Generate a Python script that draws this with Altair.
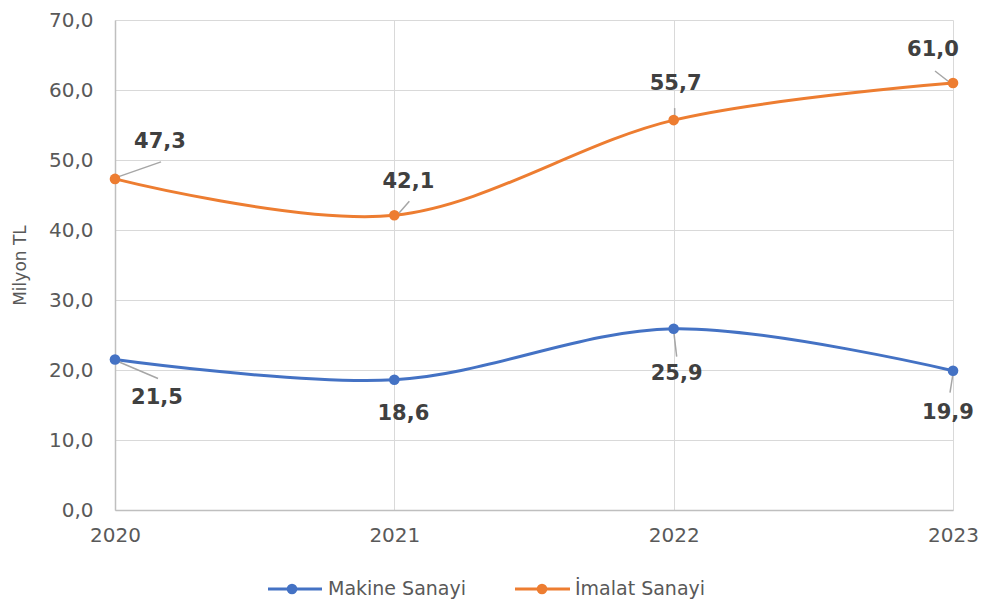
import altair as alt
import pandas as pd

years = [2020, 2021, 2022, 2023]
series_names = ["Makine Sanayi", "İmalat Sanayi"]
makine = [21.5, 18.6, 25.9, 19.9]
imalat = [47.3, 42.1, 55.7, 61.0]
colors = ["#4472C4", "#ED7D31"]
y_ticks = [0, 10, 20, 30, 40, 50, 60, 70]

rows = []
for name, vals in zip(series_names, [makine, imalat]):
    for yr, v in zip(years, vals):
        rows.append({"seri": name, "yil": yr, "deger": v})
df = pd.DataFrame(rows)
legend_df = pd.DataFrame({"seri": series_names})

FONT = "DejaVu Sans"
GRAY = "#595959"

# label placement (pixel offsets from the point): text dx, dy and leader start/end
placement = {
    ("İmalat Sanayi", 2020): dict(t=(45, -37), lead=((3, -2), (46, -17))),
    ("Makine Sanayi", 2020): dict(t=(42, 38), lead=((3, 2), (43, 19))),
    ("İmalat Sanayi", 2021): dict(t=(14, -33), lead=((1, 2), (15, -14))),
    ("Makine Sanayi", 2021): dict(t=(9, 34), lead=None),
    ("İmalat Sanayi", 2022): dict(t=(2, -36), lead=((1, 2), (1, -12))),
    ("Makine Sanayi", 2022): dict(t=(3, 45), lead=((0, 2), (3, 28))),
    ("İmalat Sanayi", 2023): dict(t=(-20, -33), lead=((0, 2), (-18, -12))),
    ("Makine Sanayi", 2023): dict(t=(-5, 42), lead=((0, 3), (-3, 22))),
}
# legend entry layout (pixels inside the plot frame): line start/end, dot, text
legend_layout = [
    dict(x0=153, x1=207, dot=177, tx=213, y=569),
    dict(x0=400, x1=455, dot=427, tx=460, y=569),
]

x_enc = alt.X(
    "yil:Q",
    scale=alt.Scale(domain=[2020, 2023], nice=False, zero=False),
    axis=alt.Axis(values=years, format="d", title=None, labelPadding=15,
                  labelFlush=False, ticks=False, tickSize=0, grid=True),
)
y_enc = alt.Y(
    "deger:Q",
    scale=alt.Scale(domain=[0, 70], nice=False),
    axis=alt.Axis(values=y_ticks,
                  labelExpr="replace(format(datum.value, '.1f'), '.', ',')",
                  title="Milyon TL", ticks=False, tickSize=0, labelPadding=22,
                  labelFlush=False,
                  titleX=-95, titleY=245, titleAngle=270, titleAlign="center",
                  titleBaseline="middle", grid=True),
)

color_scale = alt.Scale(domain=series_names, range=colors)

base = alt.Chart(df)

lines = base.mark_line(interpolate="cardinal", strokeWidth=3).encode(
    x=x_enc, y=y_enc,
    color=alt.Color("seri:N", scale=color_scale, legend=None),
)

points = base.mark_point(filled=True, size=113, opacity=1, shape="circle").encode(
    x=x_enc, y=y_enc,
    color=alt.Color("seri:N", scale=color_scale, legend=None),
)

layers = [lines]
for (s, yr), p in placement.items():
    filt = f"datum.seri == '{s}' && datum.yil == {yr}"
    if p["lead"] is not None:
        (sx, sy), (ex, ey) = p["lead"]
        rule = base.transform_filter(filt).mark_rule(
            color="#a6a6a6", strokeWidth=1.5,
            xOffset=sx, yOffset=sy, x2Offset=ex, y2Offset=ey,
        ).encode(
            x=alt.X("yil:Q"), y=alt.Y("deger:Q"),
            x2=alt.X2("yil:Q"), y2=alt.Y2("deger:Q"),
        )
        layers.append(rule)
layers.append(points)
for (s, yr), p in placement.items():
    filt = f"datum.seri == '{s}' && datum.yil == {yr}"
    dx, dy = p["t"]
    txt = base.transform_filter(filt).transform_calculate(
        etiket="replace(format(datum.deger, '.1f'), '.', ',')"
    ).mark_text(
        font=FONT, fontWeight="bold", fontSize=21, color="#404040",
        dx=dx, dy=dy, align="center", baseline="middle",
    ).encode(x=alt.X("yil:Q"), y=alt.Y("deger:Q"), text="etiket:N")
    layers.append(txt)

# legend (line + dot + label for each series)
for name, col, lay in zip(series_names, colors, legend_layout):
    lbase = alt.Chart(legend_df).transform_filter(f"datum.seri == '{name}'")
    layers.append(lbase.mark_rule(strokeWidth=3, color=col).encode(
        x=alt.value(lay["x0"]), x2=alt.value(lay["x1"]), y=alt.value(lay["y"])))
    layers.append(lbase.mark_point(filled=True, size=113, opacity=1,
                                   shape="circle", color=col).encode(
        x=alt.value(lay["dot"]), y=alt.value(lay["y"])))
    layers.append(lbase.mark_text(font=FONT, fontSize=19, color=GRAY,
                                  align="left", baseline="middle").encode(
        x=alt.value(lay["tx"]), y=alt.value(lay["y"]), text="seri:N"))

chart = alt.layer(*layers).properties(
    width=838, height=490,
    autosize=alt.AutoSizeParams(type="none"),
    padding={"left": 107, "top": 12, "right": 26, "bottom": 92},
    background="white",
).configure_view(stroke=None).configure_axis(
    labelFont=FONT, labelFontSize=20, labelColor=GRAY,
    titleFont=FONT, titleFontSize=17, titleColor=GRAY, titleFontWeight="normal",
    gridColor="#d9d9d9", gridWidth=1, domainColor="#bfbfbf", domainWidth=1.5,
)

chart.save("out.html", embed_options={"renderer": "svg", "actions": False})
